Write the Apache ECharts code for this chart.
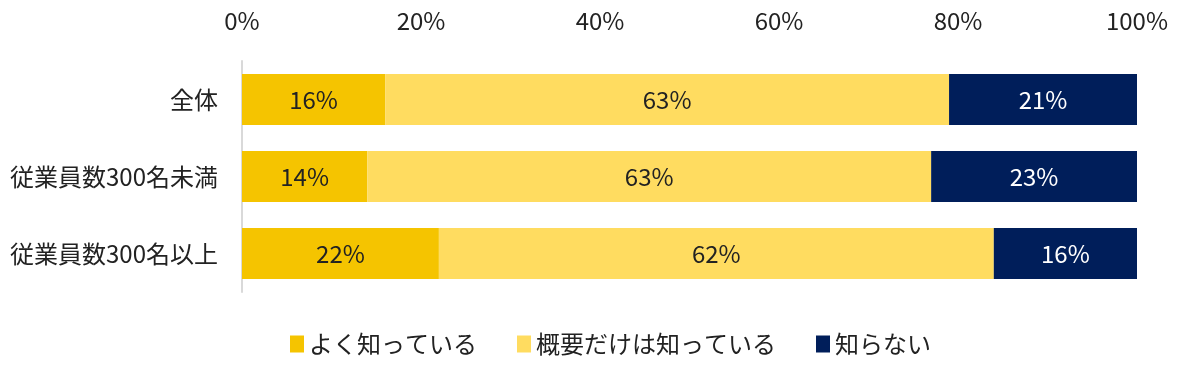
<!DOCTYPE html>
<html><head><meta charset="utf-8">
<script src="https://cdn.jsdelivr.net/npm/echarts@6/dist/echarts.min.js"></script>
<style>html,body{margin:0;padding:0;background:#fff}#c{width:1187px;height:373px}</style>
</head><body><div id="c"></div>
<script>
const categories = ['全体', '従業員数300名未満', '従業員数300名以上'];
const seriesNames = ['よく知っている', '概要だけは知っている', '知らない'];
const wellKnown = [16, 14, 22];
const overview = [63, 63, 62];
const unknown = [21, 23, 16];
const colors = ['#F5C400', '#FFDC60', '#001E5A'];
const labelColors = ['#222222', '#222222', '#ffffff'];
const font = '"Noto Sans CJK JP", "Noto Sans", sans-serif';

const chart = echarts.init(document.getElementById('c'), null, {renderer: 'canvas'});
const dataSets = [wellKnown, overview, unknown];
chart.setOption({
  animation: false,
  textStyle: {fontFamily: font},
  grid: {left: 242, right: 50, top: 61, bottom: 81},
  legend: {
    bottom: 12, left: 285, itemWidth: 14, itemHeight: 17, itemGap: 40,
    icon: 'rect',
    textStyle: {fontSize: 24, color: '#222', fontFamily: font},
    data: seriesNames
  },
  xAxis: {
    type: 'value', position: 'top', min: 0, max: 100, interval: 20,
    axisLabel: {formatter: '{value}%', fontSize: 24, color: '#222', margin: 28, fontFamily: font},
    splitLine: {show: false}, axisLine: {show: false}, axisTick: {show: false}
  },
  yAxis: {
    type: 'category', inverse: true, data: categories,
    axisLine: {show: true, lineStyle: {color: '#d9d9d9', width: 2}},
    axisTick: {show: false},
    axisLabel: {fontSize: 24, color: '#222', margin: 24, fontFamily: font}
  },
  series: dataSets.map((d, i) => ({
    name: seriesNames[i], type: 'bar', stack: 'all', data: d,
    barCategoryGap: '34%',
    itemStyle: {color: colors[i]},
    label: {show: true, position: 'inside', formatter: '{c}%', fontSize: 24, color: labelColors[i], fontFamily: font}
  }))
});
</script></body></html>
